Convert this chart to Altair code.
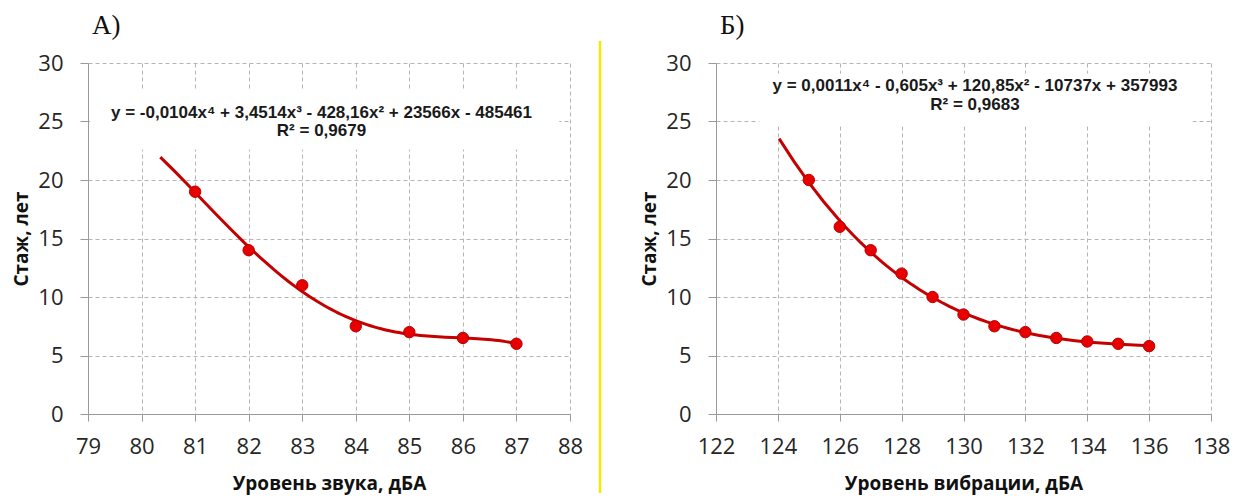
import altair as alt
import pandas as pd

# Work experience (years) against sound level, dBA
sound_level = [81, 82, 83, 84, 85, 86, 87]
sound_years = [19, 14, 11, 7.5, 7, 6.5, 6]

# Work experience (years) against vibration level, dBA
vib_level = [125, 126, 127, 128, 129, 130, 131, 132, 133, 134, 135, 136]
vib_years = [20, 16, 14, 12, 10, 8.5, 7.5, 7, 6.5, 6.2, 6, 5.8]

sound_ticks = list(range(79, 89))
vib_ticks = list(range(122, 139))
years_ticks = [0, 5, 10, 15, 20, 25, 30]

sound_eq = ["y = -0,0104x⁴ + 3,4514x³ - 428,16x² + 23566x - 485461", "R² = 0,9679"]
vib_eq = ["y = 0,0011x⁴ - 0,605x³ + 120,85x² - 10737x + 357993", "R² = 0,9683"]

RED_LINE = "#c40000"
RED_DOT = "#e80000"
GRID = "#b5b5b5"
AXIS = "#9a9a9a"
TEXT = "#262626"
LABEL_FONT = "Open Sans"


def panel(levels, years, ticks, fit_extent, x_title, letter, eq_lines, eq_pos,
          box, width, even_labels=False, divider=False):
    pts = pd.DataFrame({"x": levels, "y": years})
    xscale = alt.Scale(domain=[ticks[0], ticks[-1]], nice=False, zero=False)
    yscale = alt.Scale(domain=[0, 30], nice=False)

    xaxis = alt.Axis(
        values=ticks, title=x_title, grid=True, gridDash=[4, 3], gridColor=GRID,
        domainColor=AXIS, tickColor=AXIS, tickSize=7, format="d",
        labelFont=LABEL_FONT, labelFontSize=22, labelColor=TEXT, labelPadding=15,
        labelExpr="datum.value % 2 == 0 ? datum.label : ''" if even_labels else "datum.label",
        titleFont=LABEL_FONT, titleFontSize=19, titleFontWeight="bold",
        titleColor="#111111", titlePadding=17, labelFlush=False,
    )
    yaxis = alt.Axis(
        values=years_ticks, title="Стаж, лет", grid=True, gridDash=[4, 3], gridColor=GRID,
        domainColor=AXIS, tickColor=AXIS, tickSize=8,
        labelFont=LABEL_FONT, labelFontSize=22, labelColor=TEXT, labelPadding=17,
        titleFont=LABEL_FONT, titleFontSize=19, titleFontWeight="bold",
        titleColor="#111111", titlePadding=6,
    )

    base = alt.Chart(pts)

    # white box behind the trendline equation
    box_df = pd.DataFrame({"x": [box[0]], "x2": [box[1]], "y": [box[2]], "y2": [box[3]]})
    box_layer = alt.Chart(box_df).mark_rect(color="white").encode(
        x=alt.X("x:Q", scale=xscale, axis=xaxis),
        x2="x2:Q",
        y=alt.Y("y:Q", scale=yscale, axis=yaxis),
        y2="y2:Q",
    )

    fit = base.transform_regression(
        "x", "y", method="poly", order=4, extent=fit_extent
    ).mark_line(color=RED_LINE, strokeWidth=3).encode(
        x=alt.X("x:Q", scale=xscale),
        y=alt.Y("y:Q", scale=yscale),
    )

    dots = base.mark_point(
        filled=True, size=130, color=RED_DOT, stroke="#b40000", strokeWidth=1, opacity=1
    ).encode(
        x=alt.X("x:Q", scale=xscale),
        y=alt.Y("y:Q", scale=yscale),
    )

    eq_df = pd.DataFrame({"x": [eq_pos[0]] * 2, "y": [eq_pos[1], eq_pos[2]], "t": eq_lines})
    eq = alt.Chart(eq_df).mark_text(
        font="Liberation Sans", fontSize=17, fontWeight="bold", color="#1a1a1a",
        baseline="middle", align="center"
    ).encode(
        x=alt.X("x:Q", scale=xscale),
        y=alt.Y("y:Q", scale=yscale),
        text="t:N",
    )

    head = alt.Chart(pd.DataFrame({"t": [letter]})).mark_text(
        font="Liberation Serif", fontSize=27, color="#111111",
        align="left", baseline="alphabetic"
    ).encode(x=alt.value(4), y=alt.value(-29), text="t:N")

    layers = [box_layer, fit, dots, eq, head]
    if divider:
        layers.append(
            alt.Chart(pd.DataFrame({"t": [0]})).mark_rule(
                color="#f7e800", strokeWidth=2.5
            ).encode(x=alt.value(512), y=alt.value(-22), y2=alt.value(430))
        )
    return alt.layer(*layers).properties(width=width, height=351)


left = panel(
    sound_level, sound_years, sound_ticks, [80.35, 87],
    "Уровень звука, дБА", "А)", sound_eq, (83.36, 25.7, 24.2),
    (79.04, 87.8, 27.75, 22.6), 482, divider=True,
)
right = panel(
    vib_level, vib_years, vib_ticks, [124.04, 136],
    "Уровень вибрации, дБА", "Б)", vib_eq, (130.37, 28.0, 26.45),
    (123.4, 137.4, 29.1, 24.8), 495, even_labels=True,
)

chart = alt.hconcat(left, right, spacing=38).properties(
    padding={"left": 12, "top": 12, "right": 5, "bottom": 5}
).configure_view(stroke=None)

chart.save("out.html", embed_options={"renderer": "svg", "actions": False})
